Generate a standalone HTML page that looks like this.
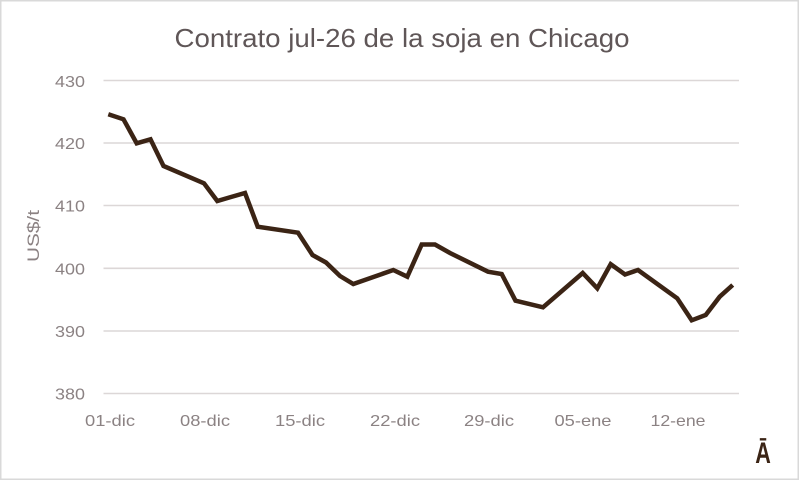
<!DOCTYPE html>
<html>
<head>
<meta charset="utf-8">
<style>
html,body{margin:0;padding:0;background:#fff;}
svg{display:block;}
</style>
</head>
<body>
<svg width="800" height="481" viewBox="0 0 800 481" xmlns="http://www.w3.org/2000/svg">
  <rect x="0" y="0" width="800" height="481" fill="#ffffff"/>
  <rect x="0.75" y="0.75" width="797.5" height="478.5" fill="none" stroke="#d9d9d9" stroke-width="1.5"/>

  <text x="402" y="47" text-anchor="middle" font-family="'Liberation Sans', sans-serif" font-size="26" fill="#5f5657" textLength="455" lengthAdjust="spacingAndGlyphs">Contrato jul-26 de la soja en Chicago</text>

  <g stroke="#dcd7d7" stroke-width="1.6">
    <line x1="103.5" y1="80.5" x2="739" y2="80.5"/>
    <line x1="103.5" y1="143" x2="739" y2="143"/>
    <line x1="103.5" y1="205.5" x2="739" y2="205.5"/>
    <line x1="103.5" y1="268.3" x2="739" y2="268.3"/>
    <line x1="103.5" y1="331" x2="739" y2="331"/>
    <line x1="103.5" y1="393.5" x2="739" y2="393.5"/>
  </g>

  <g font-family="'Liberation Sans', sans-serif" font-size="16" fill="#8b8283" text-anchor="end">
    <text x="85" y="87" textLength="30" lengthAdjust="spacingAndGlyphs">430</text>
    <text x="85" y="149" textLength="30" lengthAdjust="spacingAndGlyphs">420</text>
    <text x="85" y="211.5" textLength="30" lengthAdjust="spacingAndGlyphs">410</text>
    <text x="85" y="274.3" textLength="30" lengthAdjust="spacingAndGlyphs">400</text>
    <text x="85" y="337" textLength="30" lengthAdjust="spacingAndGlyphs">390</text>
    <text x="85" y="399.5" textLength="30" lengthAdjust="spacingAndGlyphs">380</text>
  </g>

  <g font-family="'Liberation Sans', sans-serif" font-size="16" fill="#8b8283" text-anchor="middle">
    <text x="110" y="426" textLength="50" lengthAdjust="spacingAndGlyphs">01-dic</text>
    <text x="205" y="426" textLength="50" lengthAdjust="spacingAndGlyphs">08-dic</text>
    <text x="300" y="426" textLength="50" lengthAdjust="spacingAndGlyphs">15-dic</text>
    <text x="395" y="426" textLength="50" lengthAdjust="spacingAndGlyphs">22-dic</text>
    <text x="489" y="426" textLength="50" lengthAdjust="spacingAndGlyphs">29-dic</text>
    <text x="583" y="426" textLength="57" lengthAdjust="spacingAndGlyphs">05-ene</text>
    <text x="678" y="426" textLength="55" lengthAdjust="spacingAndGlyphs">12-ene</text>
  </g>

  <text transform="translate(39,236) rotate(-90)" text-anchor="middle" font-family="'Liberation Sans', sans-serif" font-size="17" fill="#8b8283" textLength="52" lengthAdjust="spacingAndGlyphs">US$/t</text>

  <polyline fill="none" stroke="#3b2415" stroke-width="4.5" stroke-linejoin="miter" stroke-linecap="butt"
    points="108.3,114.3 123.5,119.3 136.7,143.3 150.5,139.3 163.5,166 204,183.3 217.3,201 231,197 245,193 257.7,226.7 298,232.7 312.5,255 326,262.5 340,276 353.3,284 393.3,270 407.3,276.7 421.7,244.5 435,244.5 450,253 488,271.7 501.7,274 515.5,300.7 543,307.3 582.7,273 597.3,288.3 610.7,264.2 625,274.5 638,270 677.2,298.3 691.7,320.3 705.7,315 719.7,296.7 732.7,285"/>

  <text x="763" y="463" text-anchor="middle" font-family="'Liberation Sans', sans-serif" font-size="30" font-weight="bold" fill="#3b2415" transform="translate(763,0) scale(0.72,1) translate(-763,0)">Ā</text>
</svg>
</body>
</html>
